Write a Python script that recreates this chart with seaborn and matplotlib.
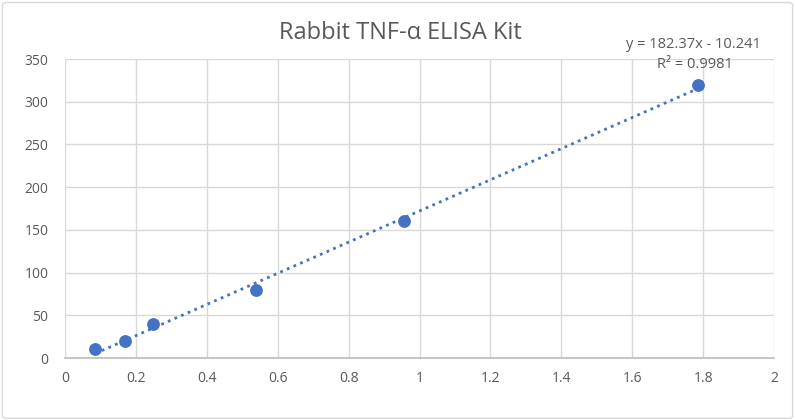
import numpy as np
import matplotlib
matplotlib.use("Agg")
import matplotlib.pyplot as plt
from matplotlib.patches import FancyBboxPatch
import seaborn as sns

conc = [0.085, 0.169, 0.248, 0.539, 0.956, 1.786]
od = [10, 20, 40, 80, 160, 320]
slope, intercept = 182.37, -10.241
r2 = 0.9981
x_ticks = [0, 0.2, 0.4, 0.6, 0.8, 1, 1.2, 1.4, 1.6, 1.8, 2]
y_ticks = [0, 50, 100, 150, 200, 250, 300, 350]

sns.set_theme(style="white")
plt.rcParams["font.family"] = ["Open Sans", "DejaVu Sans"]
grey = "#595959"
blue = "#4472C4"

fig = plt.figure(figsize=(7.95, 4.2), dpi=100)
ax = fig.add_axes([0.0818, 0.1476, 0.8918, 0.7119])

border = FancyBboxPatch((0.003, 0.004), 0.994, 0.99, boxstyle="round,pad=0,rounding_size=0.006",
                        transform=fig.transFigure, fill=False, edgecolor="#d9d9d9", linewidth=1)
fig.patches.append(border)

xs = np.array([min(conc), max(conc)])
ax.plot(xs, slope * xs + intercept, linestyle=(0, (1, 1.6)), color=blue, linewidth=2, zorder=2)
sns.scatterplot(x=conc, y=od, ax=ax, color=blue, s=85, edgecolor=blue, linewidth=0, zorder=3)

ax.set_xlim(0, 2)
ax.set_ylim(0, 350)
ax.set_xticks(x_ticks)
ax.set_xticklabels([f"{t:g}" for t in x_ticks])
ax.set_yticks(y_ticks)
ax.grid(True, color="#d9d9d9", linewidth=1)
ax.set_axisbelow(True)
for s in ["top", "right", "left"]:
    ax.spines[s].set_visible(False)
ax.spines["bottom"].set_color("#bfbfbf")
ax.tick_params(axis="both", colors=grey, labelsize=10, length=0)
ax.tick_params(axis="y", pad=12)
ax.tick_params(axis="x", pad=9)

fig.text(0.503, 0.922, "Rabbit TNF-α ELISA Kit", ha="center", va="center",
         fontsize=17, color=grey)
sign = "-" if intercept < 0 else "+"
ax.text(0.886, 1.047, f"y = {slope}x {sign} {abs(intercept)}", transform=ax.transAxes,
        ha="center", va="center", fontsize=10.5, color=grey)
ax.text(0.888, 0.98, f"R² = {r2}", transform=ax.transAxes,
        ha="center", va="center", fontsize=10.5, color=grey)

fig.savefig("out.png", dpi=100)
